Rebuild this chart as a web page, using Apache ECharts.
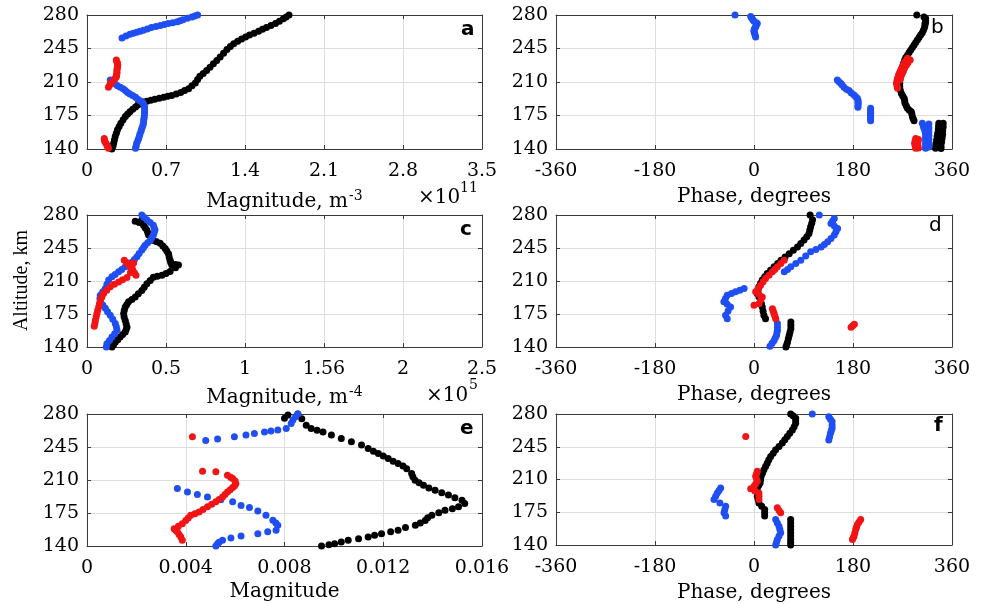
<!DOCTYPE html>
<html>
<head>
<meta charset="utf-8">
<script src="https://cdn.jsdelivr.net/npm/echarts@6/dist/echarts.min.js"></script>
<style>
html, body { margin: 0; padding: 0; background: #fff; }
#chart { width: 983px; height: 604px; }
</style>
</head>
<body>
<div id="chart"></div>
<script>
// altitude axis ticks, shared by all panels
var altTicks = [140, 175, 210, 245, 280];
var magATicks = ['0', '0.7', '1.4', '2.1', '2.8', '3.5'];
var magCTicks = ['0', '0.5', '1', '1.56', '2', '2.5'];
var magETicks = ['0', '0.004', '0.008', '0.012', '0.016'];
var phaseTicks = ['-360', '-180', '0', '180', '360'];

// panel a : magnitude x1e11, [value, altitude]
var aBlack = [[0.22,140],[0.23,143],[0.236,146],[0.243,149.5],[0.25,153],[0.26,156.5],[0.27,160],[0.285,163.5],[0.30,167],[0.32,170.5],[0.34,174],[0.36,176.5],[0.38,179],[0.405,181.5],[0.43,184],[0.45,186],[0.47,188],[0.50,189],[0.53,190],[0.565,191],[0.60,192],[0.64,193],[0.68,194],[0.715,195],[0.75,196],[0.79,197.5],[0.83,199],[0.865,201],[0.90,203],[0.93,206],[0.96,209],[0.98,212.5],[1.00,216],[1.03,219],[1.06,222],[1.09,225.5],[1.12,229],[1.15,232.5],[1.18,236],[1.21,240],[1.24,244],[1.27,247],[1.30,250],[1.335,252.5],[1.37,255],[1.405,257],[1.44,259],[1.48,261],[1.52,263],[1.555,265],[1.59,267],[1.63,269],[1.67,271],[1.705,273.5],[1.74,276],[1.765,278],[1.79,280]];
var aBlue = [[0.31,256],[0.345,258],[0.38,260],[0.41,261],[0.44,262],[0.47,263],[0.50,264],[0.535,265.5],[0.57,267],[0.61,268],[0.65,269],[0.685,270],[0.72,271],[0.76,272],[0.80,273],[0.825,274],[0.85,275],[0.89,276.5],[0.93,278],[0.955,279],[0.98,280],
  [0.206,212],[0.23,210],[0.25,208],[0.27,206],[0.295,204.5],[0.32,203],[0.34,201],[0.36,199],[0.38,197.5],[0.405,196],[0.43,194],[0.45,192],[0.47,190.5],[0.49,189],[0.50,187],[0.51,184.5],[0.51,182],[0.51,179.5],[0.51,177],[0.508,174.5],[0.505,172],[0.502,169.5],[0.50,167],[0.495,164.5],[0.486,161.6],[0.48,159],[0.47,156],[0.465,153.5],[0.457,151],[0.45,148.5],[0.44,146],[0.435,143],[0.43,140.7]];
var aRed = [[0.26,233],[0.265,231],[0.27,229.5],[0.272,227.5],[0.27,226],[0.268,224],[0.265,222.5],[0.265,220.5],[0.265,219],[0.262,217],[0.26,215.6],[0.25,214],[0.236,212],[0.222,210],[0.21,208.6],[0.2,206.5],[0.19,204.4],
  [0.153,151],[0.155,149],[0.16,147.7],[0.168,146],[0.177,144],[0.183,142.3],[0.19,140.7]];

// panel b : phase, degrees
var bBlack = [[296,280],[309,278],[312,276.5],[312,275],[312,273],[311,271],[311,269.6],[310,267],[308,264],[306,261.5],[303,259],[300,256.5],[297,254],[294,251.3],[291,248.7],[288,246],[285,243.4],[282,240.7],[279,238],[276,235.5],[274,233],[272,229.5],[270,226],[268.5,222.5],[267,219],[266,215.5],[265,212],[265,208.5],[265,205],[266,201.5],[268,198],[270.5,195.5],[273,193],[274,190.3],[274.6,187.7],[277,185],[279,182.5],[282.5,180.5],[286,179],[287,176.5],[288,173.8],[289.5,171.7],[291,169.6],
  [336,167],[335.5,163.5],[335,160],[334,156.5],[333,153],[332,149.5],[331,146],[330.5,143.3],[330,140.7],[344,167],[344,163],[343,159],[343,155],[342,151],[341,147],[340,143],[340,140.5]];
var bBlue = [[-34.5,280],[-6,278.5],[-4,276.5],[-2,275],[0,273.5],[4,272],[6,271],[4,269],[3,267.5],[1,266],[0,264],[0,262.5],[1,261],[2,259],[3,257],
  [151.5,212],[154,210.5],[157.6,208.6],[160,207],[163.6,204.4],[168,202.5],[172.7,201],[177,198.5],[181.8,196.4],[185,194.5],[188,193],[189,191],[189,189],[189.5,187.7],[189,185.5],[189,183.5],[212,182.5],[212,180.5],[212,178.5],[212,177],[212,175],[212,173.5],[212,171.5],[212,169.6],
  [306,167],[308,164],[309,161.6],[311,158.5],[312,156.4],[312,153.5],[312,151],[312,148.5],[312,146],[312,143.5],[312,140.7],[318,166],[318,162],[318,158],[318,154],[318,150],[318,146],[318,142]];
var bRed = [[279,234.7],[276,232],[273,229.5],[270.5,226.8],[268,224],[266,221.5],[264,219],[262.5,216.5],[261,214],[260,211.3],[259,208.6],[260,206],[261,203.4],
  [284,233],[280,230],[277,227.5],[274,225],[272,222],[270,219.5],[268,217],[266.5,214.5],[265.5,212],
  [294,151],[293,148.5],[292,146],[293,143.4],[294,140.7],[299,150],[298,147],[298,144],[299,141]];

// panel c : magnitude x1e5
var cBlack = [[0.347,275],[0.305,273.5],[0.33,272],[0.358,269],[0.368,266.5],[0.379,264],[0.385,261.3],[0.39,258.7],[0.405,256],[0.42,253],[0.44,251.5],[0.463,250],[0.48,247],[0.495,244.5],[0.505,241.7],[0.516,239],[0.52,235.5],[0.526,232],[0.53,229.5],[0.537,227],[0.56,227.5],[0.579,227],[0.56,224],[0.526,220],[0.50,218],[0.474,216],[0.445,215],[0.42,214],[0.40,210.5],[0.379,207],[0.362,203.5],[0.347,200],[0.325,196.5],[0.305,193],[0.284,190.5],[0.263,188],[0.252,185],[0.242,182.5],[0.236,179],[0.232,175.4],[0.235,171.7],[0.242,168],[0.248,164.5],[0.253,161],[0.248,158.5],[0.242,156],[0.226,153.3],[0.21,150.6],[0.195,147.8],[0.179,145],[0.168,142.5],[0.158,140]];
var cBlue = [[0.347,280],[0.36,277.5],[0.379,275],[0.40,272],[0.42,269],[0.425,266.5],[0.43,264],[0.425,261.3],[0.42,258.7],[0.41,256],[0.40,253],[0.384,250.5],[0.368,248],[0.358,245.4],[0.347,242.8],[0.33,239.2],[0.316,235.7],[0.30,232.8],[0.284,230],[0.263,227.5],[0.242,225],[0.22,222.3],[0.2,219.7],[0.178,217],[0.158,214.4],[0.137,211],[0.126,206.5],[0.116,202],[0.10,198.5],[0.084,195],[0.082,191.5],[0.084,188],[0.10,184.5],[0.116,181],[0.13,177.3],[0.147,173.7],[0.163,169.3],[0.179,164.8],[0.186,161.2],[0.19,157.7],[0.175,154.1],[0.158,150.6],[0.142,147],[0.126,143.5],[0.122,140]];
var cRed = [[0.236,232],[0.25,229.5],[0.263,227],[0.277,224.2],[0.29,221.5],[0.30,218.8],[0.31,216],[0.295,229],[0.285,224],[0.275,219],
  [0.253,213.7],[0.225,211.3],[0.2,209],[0.173,206.5],[0.147,204],[0.125,200.3],[0.105,196.7],[0.094,193],[0.084,189.6],[0.079,186],[0.074,182.5],[0.068,179],[0.063,175.4],[0.058,171.7],[0.053,168],[0.05,165],[0.046,162]];

// panel d : phase, degrees
var dBlack = [[102,280],[106.5,275],[105,271.3],[103,267.6],[101.5,264],[100,260.5],[96,257],[91,253.4],[85,249.7],[79,246],[71.5,242.5],[64,239],[56.5,235.5],[49,232],[43,228.5],[36.5,225],[30,221.5],[24,218],[19.5,214.5],[15,211],[12,207.5],[9,204],[7.5,200.4],[6,196.7],[9,193.2],[12,189.6],[13.5,186],[15,182.5],[16.5,178],[18,173.7],[21,170],
  [67,166.6],[67,163],[67,159.5],[65.5,156],[64,152.4],[62.5,148.9],[61,145.3],[59.5,142.6],[58,140]];
var dBlue = [[118.7,280],[146,276.4],[143,273.7],[140,271],[146,268.4],[152,265.8],[149,262.2],[146,258.7],[140,255.2],[134,251.6],[128,248.8],[122,246],[112.5,243.5],[103,241],[94,236.5],[85,232],[76,228.5],[67,225],[61,222.3],[55,219.7],
  [-18,202],[-25.8,200.3],[-33.5,198.5],[-41,196.7],[-48.7,195],[-51.8,191.5],[-54.8,188],[-48.7,185.3],[-42.6,182.5],[-47.2,178.1],[-51.7,173.7],[-48.7,170],
  [42.6,164.8],[42.6,161.3],[42.6,157.7],[41.8,155],[41,152.4],[38.8,149.7],[36.5,147],[32.8,143.9],[29,140.7]];
var dRed = [[55,232],[48.8,228.5],[42.6,225],[38,222.3],[33.5,219.7],[27.3,216.2],[21,212.6],[16.5,209.1],[12,205.6],[7.5,202],[3,198.5],[9,195.7],[15,193],[12,189.5],[9,186],[0,184.3],
  [33.5,180.7],[35,178],[36.5,175.4],[38,172.7],[39.5,170],[176.5,161],[179.5,162.5],[182.5,164]];

// panel e : magnitude
var eBlack = [[0.0080,275.4],[0.00814,279],[0.00854,280],[0.0087,275],[0.00888,268],[0.00908,264.7],[0.00932,262.8],[0.00956,261],[0.0099,257.7],[0.0103,254],[0.01071,250.6],[0.01112,247],[0.01139,243.5],[0.0116,240.5],[0.0118,238],[0.012,235.5],[0.0122,232.9],[0.0124,230],[0.0126,227.5],[0.0128,224.8],[0.01295,222],[0.01315,217],[0.0132,213.5],[0.01329,209.8],[0.01345,207],[0.01363,204.5],[0.01385,201.5],[0.0141,199],[0.01437,196.5],[0.01464,194],[0.0149,191.3],[0.01519,188.6],[0.0153,185],[0.01505,181.5],[0.0148,179.5],[0.0145,178],[0.01425,175.3],[0.01397,172.6],[0.0138,170],[0.0137,167],[0.0135,164.5],[0.0133,162],[0.0129,159.5],[0.0126,156.7],[0.0123,155],[0.01193,153],[0.01165,151.3],[0.01139,149.6],[0.011,147.8],[0.01058,146],[0.0103,144.3],[0.01003,142.5],[0.0098,141.3],[0.0095,140]];
var eBlue = [[0.00854,280],[0.00845,277],[0.00834,273.6],[0.00827,270],[0.00807,264.7],[0.00773,263],[0.00745,262],[0.00719,261],[0.00678,259.4],[0.00644,257.7],[0.00597,256],[0.00529,253.4],[0.00481,252],
  [0.00366,201],[0.00407,197.4],[0.00447,194.6],[0.00488,192],[0.00542,189],[0.0059,186.8],[0.00624,183],[0.00658,180.8],[0.00692,177],[0.00725,172.6],[0.00753,167.3],[0.00765,164.5],[0.00773,162],[0.00766,156.7],[0.00732,155],[0.00692,153],[0.00624,150.6],[0.00583,148.5],[0.00549,146],[0.00535,144],[0.00529,142.5],[0.00522,140]];
var eRed = [[0.00427,256],
  [0.00468,219.4],[0.00522,218.7],[0.00569,215],[0.00582,213],[0.0059,211.6],[0.006,209],[0.00603,206],[0.00598,204],[0.0059,202],[0.0058,199.7],[0.00569,197.4],[0.00559,194.7],[0.00549,192],[0.00535,189.4],[0.00522,186.8],[0.00505,184.2],[0.00488,181.5],[0.0047,178.8],[0.00454,176],[0.00437,174.3],[0.0042,172.6],[0.0041,169.8],[0.004,167],[0.00386,163.7],[0.0037,161],[0.00353,158.4],[0.0036,156.7],[0.00366,155],[0.00373,152.3],[0.0038,149.6],[0.00386,146]];

// panel f : phase, degrees
var fBlack = [[66.7,280],[71,278],[75.8,275.4],[75.8,272.7],[75.8,270],[73,266.5],[69.7,263],[65,259.5],[60.6,256],[56,252.5],[51.5,249],[45.5,245.3],[39.4,241.7],[35,238],[30.3,234.6],[27,231],[24,227.5],[21,224],[18,220.4],[15.5,217],[13,213.4],[12,209.8],[11,206.3],[8.5,203.7],[6,201],[6,197],[6,192],[7.5,188.5],[9,185],[14,181.5],[19.4,178],[19.4,174.5],[19.4,171],
  [66.7,167.3],[66.7,163.6],[66.7,160],[66.7,156.5],[66.7,153],[66.7,149.5],[66.7,146],[66.7,143],[66.7,140]];
var fBlue = [[106,280],[136,277],[139,274.5],[142,272],[142,268.3],[142,264.7],[140.5,262],[139,259.4],[137.5,255.8],[136,252.3],
  [-60.6,201],[-63.6,198.3],[-66.7,195.6],[-69.7,192],[-72.7,188.6],[-62,185],[-51.5,181.5],[-53,178],[-54.5,174.4],[-51.5,171],
  [39.4,167.3],[42.4,163.6],[45.5,160],[47,156.5],[48.5,153],[45.5,149.5],[42.4,146],[41,143],[39.4,140]];
var fRed = [[-15,256],
  [6,218.7],[4.5,216],[3,213.4],[4.5,210.7],[6,208],[3,205.3],[0,202.7],[-6,200],[1.5,197.8],[9,195.6],[9,192],[9,188.6],[42.4,179.7],[45.5,177],[48.5,174.4],
  [194,167.3],[191,164.6],[188,162],[186.5,159.3],[185,156.7],[183.5,153],[182,149.6],[180.5,147.8],[179,146]];

var chart = echarts.init(document.getElementById('chart'));

var serif = 'DejaVu Serif';
var colBlack = '#000000', colBlue = '#1f4ff2', colRed = '#f21414';

var nameRich = {
	n: { fontFamily: serif, fontSize: 20, color: '#000', lineHeight: 24 },
	s: { fontFamily: serif, fontSize: 14, color: '#000', lineHeight: 24, padding: [0, 0, 12, 1] }
};

var panels = [
	{ grid: { left: 87, top: 15, width: 395, height: 134 }, min: 0, max: 3.5, step: 0.7, ticks: magATicks, name: '{n|Magnitude, m}{s|-3}', gap: 41, data: [aBlack, aBlue, aRed] },
	{ grid: { left: 556, top: 15, width: 396, height: 134 }, min: -360, max: 360, step: 180, ticks: phaseTicks, name: '{n|Phase, degrees}', gap: 36, data: [bBlack, bBlue, bRed] },
	{ grid: { left: 87, top: 215, width: 395, height: 132 }, min: 0, max: 2.5, step: 0.5, ticks: magCTicks, name: '{n|Magnitude, m}{s|-4}', gap: 39, data: [cBlack, cBlue, cRed] },
	{ grid: { left: 556, top: 215, width: 396, height: 132 }, min: -360, max: 360, step: 180, ticks: phaseTicks, name: '{n|Phase, degrees}', gap: 36, data: [dBlack, dBlue, dRed] },
	{ grid: { left: 87, top: 414, width: 395, height: 132 }, min: 0, max: 0.016, step: 0.004, ticks: magETicks, name: '{n|Magnitude}', gap: 34, data: [eBlack, eBlue, eRed] },
	{ grid: { left: 556, top: 414, width: 396, height: 132 }, min: -360, max: 360, step: 180, ticks: phaseTicks, name: '{n|Phase, degrees}', gap: 36, data: [fBlack, fBlue, fRed] }
];

var grids = [], xAxes = [], yAxes = [], series = [];
var lineStyle = { color: '#3a3a3a', width: 1 };

panels.forEach(function(p, i) {
	grids.push(p.grid);
	var labels = p.ticks;
	// bottom axis with labels
	xAxes.push({
		gridIndex: i, type: 'value', position: 'bottom',
		min: p.min, max: p.max, interval: p.step,
		axisLine: { show: true, onZero: false, lineStyle: lineStyle },
		axisTick: { show: true, inside: true, length: 4, lineStyle: lineStyle },
		splitLine: { show: true, lineStyle: { color: '#dedede', width: 1 } },
		axisLabel: {
			margin: 13, color: '#000', fontFamily: serif, fontSize: 19,
			formatter: function(v, idx) { return labels[idx] !== undefined ? labels[idx] : v; }
		},
		name: p.name, nameLocation: 'middle', nameGap: p.gap,
		nameTextStyle: { color: '#000', fontFamily: serif, fontSize: 20, rich: nameRich }
	});
	// top axis, frame and ticks only
	xAxes.push({
		gridIndex: i, type: 'value', position: 'top',
		min: p.min, max: p.max, interval: p.step,
		axisLine: { show: true, onZero: false, lineStyle: lineStyle },
		axisTick: { show: true, inside: true, length: 4, lineStyle: lineStyle },
		splitLine: { show: false }, axisLabel: { show: false }
	});
	yAxes.push({
		gridIndex: i, type: 'value', position: 'left',
		min: 140, max: 280, interval: 35,
		axisLine: { show: true, onZero: false, lineStyle: lineStyle },
		axisTick: { show: true, inside: true, length: 4, lineStyle: lineStyle },
		splitLine: { show: true, lineStyle: { color: '#dedede', width: 1 } },
		axisLabel: { margin: 8, color: '#000', fontFamily: serif, fontSize: 19 }
	});
	yAxes.push({
		gridIndex: i, type: 'value', position: 'right',
		min: 140, max: 280, interval: 35,
		axisLine: { show: true, onZero: false, lineStyle: lineStyle },
		axisTick: { show: true, inside: true, length: 4, lineStyle: lineStyle },
		splitLine: { show: false }, axisLabel: { show: false }
	});
	var cols = [colBlack, colBlue, colRed];
	p.data.forEach(function(d, k) {
		series.push({
			type: 'scatter', xAxisIndex: i * 2, yAxisIndex: i * 2,
			data: d, symbolSize: 7, itemStyle: { color: cols[k], opacity: 1 },
			animation: false
		});
	});
});

var letters = [
	{ t: 'a', x: 469, y: 32, w: 'bold' },
	{ t: 'b', x: 939, y: 30, w: 'normal' },
	{ t: 'c', x: 468, y: 232, w: 'bold' },
	{ t: 'd', x: 937, y: 228, w: 'normal' },
	{ t: 'e', x: 468, y: 431, w: 'bold' },
	{ t: 'f', x: 942, y: 428, w: 'bold' }
];

var graphics = letters.map(function(l) {
	return {
		type: 'text', left: l.x - 8, top: l.y - 12, z: 10,
		style: { text: l.t, fill: '#000', font: l.w + ' 20px "DejaVu Sans"' }
	};
});
// scale factors under the magnitude axes
graphics.push({ type: 'text', left: 418, top: 188, z: 10, style: { text: '×10', fill: '#000', font: '20px "DejaVu Serif"' } });
graphics.push({ type: 'text', left: 460, top: 181, z: 10, style: { text: '11', fill: '#000', font: '14px "DejaVu Serif"' } });
graphics.push({ type: 'text', left: 426, top: 386, z: 10, style: { text: '×10', fill: '#000', font: '20px "DejaVu Serif"' } });
graphics.push({ type: 'text', left: 469, top: 378, z: 10, style: { text: '5', fill: '#000', font: '14px "DejaVu Serif"' } });
graphics.push({
	type: 'text', left: 12, top: 230, z: 10, rotation: Math.PI / 2,
	originX: 0, originY: 0,
	style: { text: 'Altitude, km', fill: '#000', font: '20px "Liberation Serif"' }
});

chart.setOption({
	backgroundColor: '#fff',
	animation: false,
	grid: grids,
	xAxis: xAxes,
	yAxis: yAxes,
	graphic: graphics,
	series: series
});
</script>
</body>
</html>
